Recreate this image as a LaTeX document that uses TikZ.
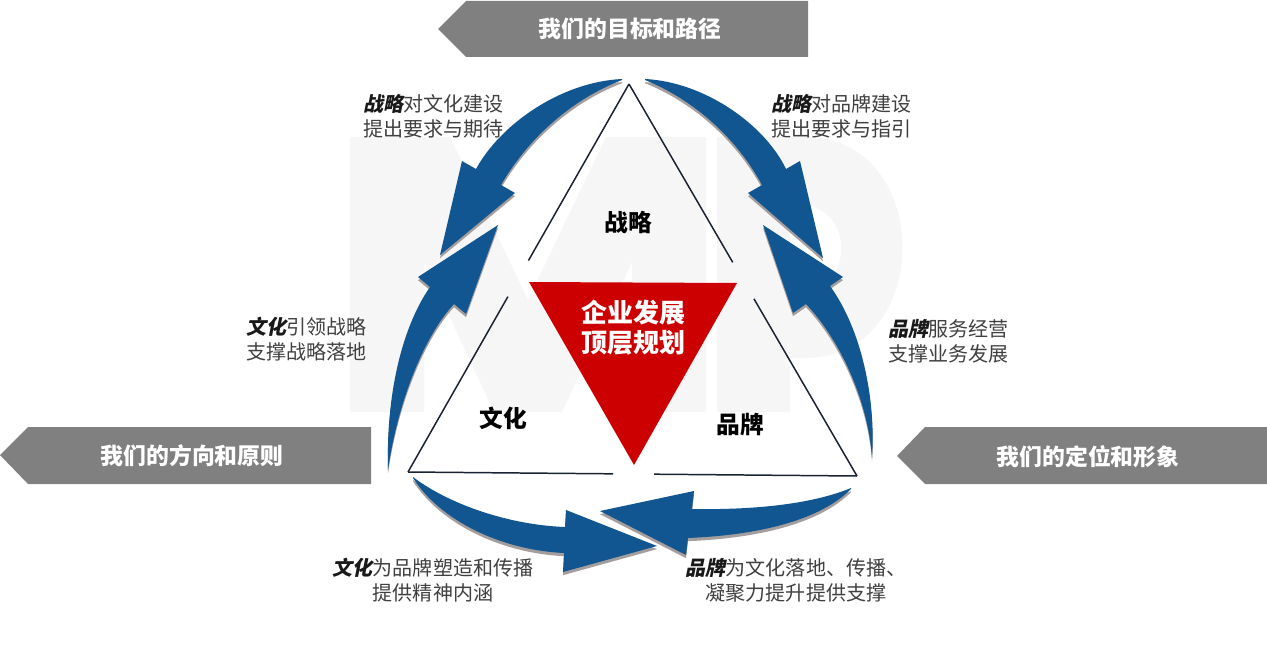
\documentclass[tikz,border=0pt]{standalone}
\usepackage{fontspec}
\setmainfont{Noto Sans CJK SC}
\newfontfamily\slfont{Noto Sans CJK SC}[FakeSlant=0.2]
\usepackage{tikz}
\usetikzlibrary{calc,shadows}
\usepackage{xcolor}
\definecolor{myblue}{RGB}{17,85,145}
\definecolor{myred}{RGB}{204,0,0}
\definecolor{mygray}{RGB}{128,128,128}
\definecolor{myshadow}{RGB}{165,158,158}
\definecolor{mytext}{RGB}{64,64,64}
\definecolor{myline}{RGB}{25,35,50}
\definecolor{mymark}{RGB}{246,246,246}

\newcommand{\kw}[1]{{\slfont\bfseries\color{black!90}#1}}

\tikzset{
  banner/.style={fill=mygray, draw=none},
  bannertext/.style={text=white, inner sep=0pt, font=\fontsize{13}{15}\selectfont\bfseries},
  notetext/.style={text=mytext, inner sep=0pt, font=\fontsize{11.4}{14.2}\selectfont},
  parttext/.style={inner sep=0pt, font=\fontsize{13.5}{16}\selectfont\bfseries},
  triline/.style={draw=myline, line width=0.85pt},
  arrowbody/.style={fill=myblue, drop shadow={shadow xshift=0pt, shadow yshift=-1.8pt, fill=myshadow, opacity=1}},
}

\begin{document}
\begin{tikzpicture}[x=0.02cm, y=-0.02cm]
  \fill[white] (0,0) rectangle (1267,652);
  \useasboundingbox (0,0) rectangle (1267,652);
  % watermark
  \fill[mymark] (350,412) -- (350,137) -- (450,137) -- (528,300) -- (606,137) -- (706,137) -- (706,412) -- (632,412) -- (632,262) -- (562,412) -- (494,412) -- (424,262) -- (424,412) -- cycle;
  \fill[mymark, even odd rule] (717,137) -- (805,137) .. controls (935,137) and (935,358) .. (805,358) -- (790,358) -- (790,412) -- (717,412) -- cycle
    (790,205) -- (800,205) .. controls (855,205) and (855,292) .. (800,292) -- (790,292) -- cycle;

  % banners
  \fill[banner] (438,29) -- (466,1) -- (808,1) -- (808,57) -- (466,57) -- cycle;
  \fill[banner] (0,455) -- (28,427) -- (371,427) -- (371,484) -- (28,484) -- cycle;
  \fill[banner] (897,456) -- (925,427) -- (1267,427) -- (1267,484) -- (925,484) -- cycle;
  \node[bannertext] (goal) at (630,29) {我们的目标和路径};
  \node[bannertext] (rule) at (192,456) {我们的方向和原则};
  \node[bannertext] (image) at (1088,457) {我们的定位和形象};

  % arrows
  \fill[arrowbody] (388,470) .. controls (386,400) and (400,330) .. (430,287) -- (418,277) -- (498,225) -- (466,314) -- (454,304) .. controls (425,335) and (398,400) .. (388,470) -- cycle;
  \fill[arrowbody] (622,79) .. controls (560,82) and (500,125) .. (476,169) -- (462,161) -- (440,255) -- (515,193) -- (501,185) .. controls (530,135) and (575,98) .. (622,80) -- cycle;
  \fill[arrowbody] (872,458) .. controls (876,400) and (862,330) .. (830,286) -- (843,277) -- (763,225) -- (793,313) -- (806,304) .. controls (840,340) and (868,400) .. (872,458) -- cycle;
  \fill[arrowbody] (645,79) .. controls (705,82) and (765,125) .. (786,169) -- (800,161) -- (823,258) -- (748,193) -- (762,185) .. controls (735,135) and (690,98) .. (645,80) -- cycle;
  \fill[arrowbody] (413,477) .. controls (450,505) and (510,525) .. (565,527) -- (566,510) -- (657,546) -- (563,572) -- (564,553) .. controls (500,550) and (440,520) .. (413,478) -- cycle;
  \fill[arrowbody] (851,488) .. controls (810,505) and (750,510) .. (692,509) -- (694,491) -- (600,511) -- (686,555) -- (688,538) .. controls (760,535) and (820,520) .. (851,489) -- cycle;

  % triangle
  \coordinate (top) at (629,84);
  \coordinate (lft) at (408,472);
  \coordinate (rgt) at (857,476);
  \draw[triline] (top) -- ($(top)!0.455!(lft)$);
  \draw[triline] ($(top)!0.548!(lft)$) -- (lft);
  \draw[triline] (top) -- ($(top)!0.455!(rgt)$);
  \draw[triline] ($(top)!0.548!(rgt)$) -- (rgt);
  \draw[triline] (lft) -- ($(lft)!0.457!(rgt)$);
  \draw[triline] ($(lft)!0.548!(rgt)$) -- (rgt);
  \fill[myred] (529,282) -- (737,283) -- (634,465) -- cycle;

  \node[parttext] (strategy) at (628,222) {战略};
  \node[parttext] (culture) at (503,418) {文化};
  \node[parttext] (brand) at (740,425) {品牌};
  \node[text=white, inner sep=0pt, align=center, font=\fontsize{14.8}{17}\selectfont\bfseries] (core) at (633,328) {企业发展\\顶层规划};

  % notes
  \node[notetext, anchor=west, align=left] (stratcult) at (363,116) {\kw{战略}对文化建设\\提出要求与期待};
  \node[notetext, anchor=west, align=left] (stratbrand) at (771,116) {\kw{战略}对品牌建设\\提出要求与指引};
  \node[notetext, anchor=east, align=left] (cultstrat) at (367,339) {\kw{文化}引领战略\\支撑战略落地};
  \node[notetext, anchor=west, align=left] (brandstrat) at (888,341) {\kw{品牌}服务经营\\支撑业务发展};
  \node[notetext, align=center] (cultbrand) at (433,580) {\kw{文化}为品牌塑造和传播\\提供精神内涵};
  \node[notetext, align=center] (brandcult) at (796,580) {\kw{品牌}为文化落地、传播、\\凝聚力提升提供支撑};
\end{tikzpicture}
\end{document}
